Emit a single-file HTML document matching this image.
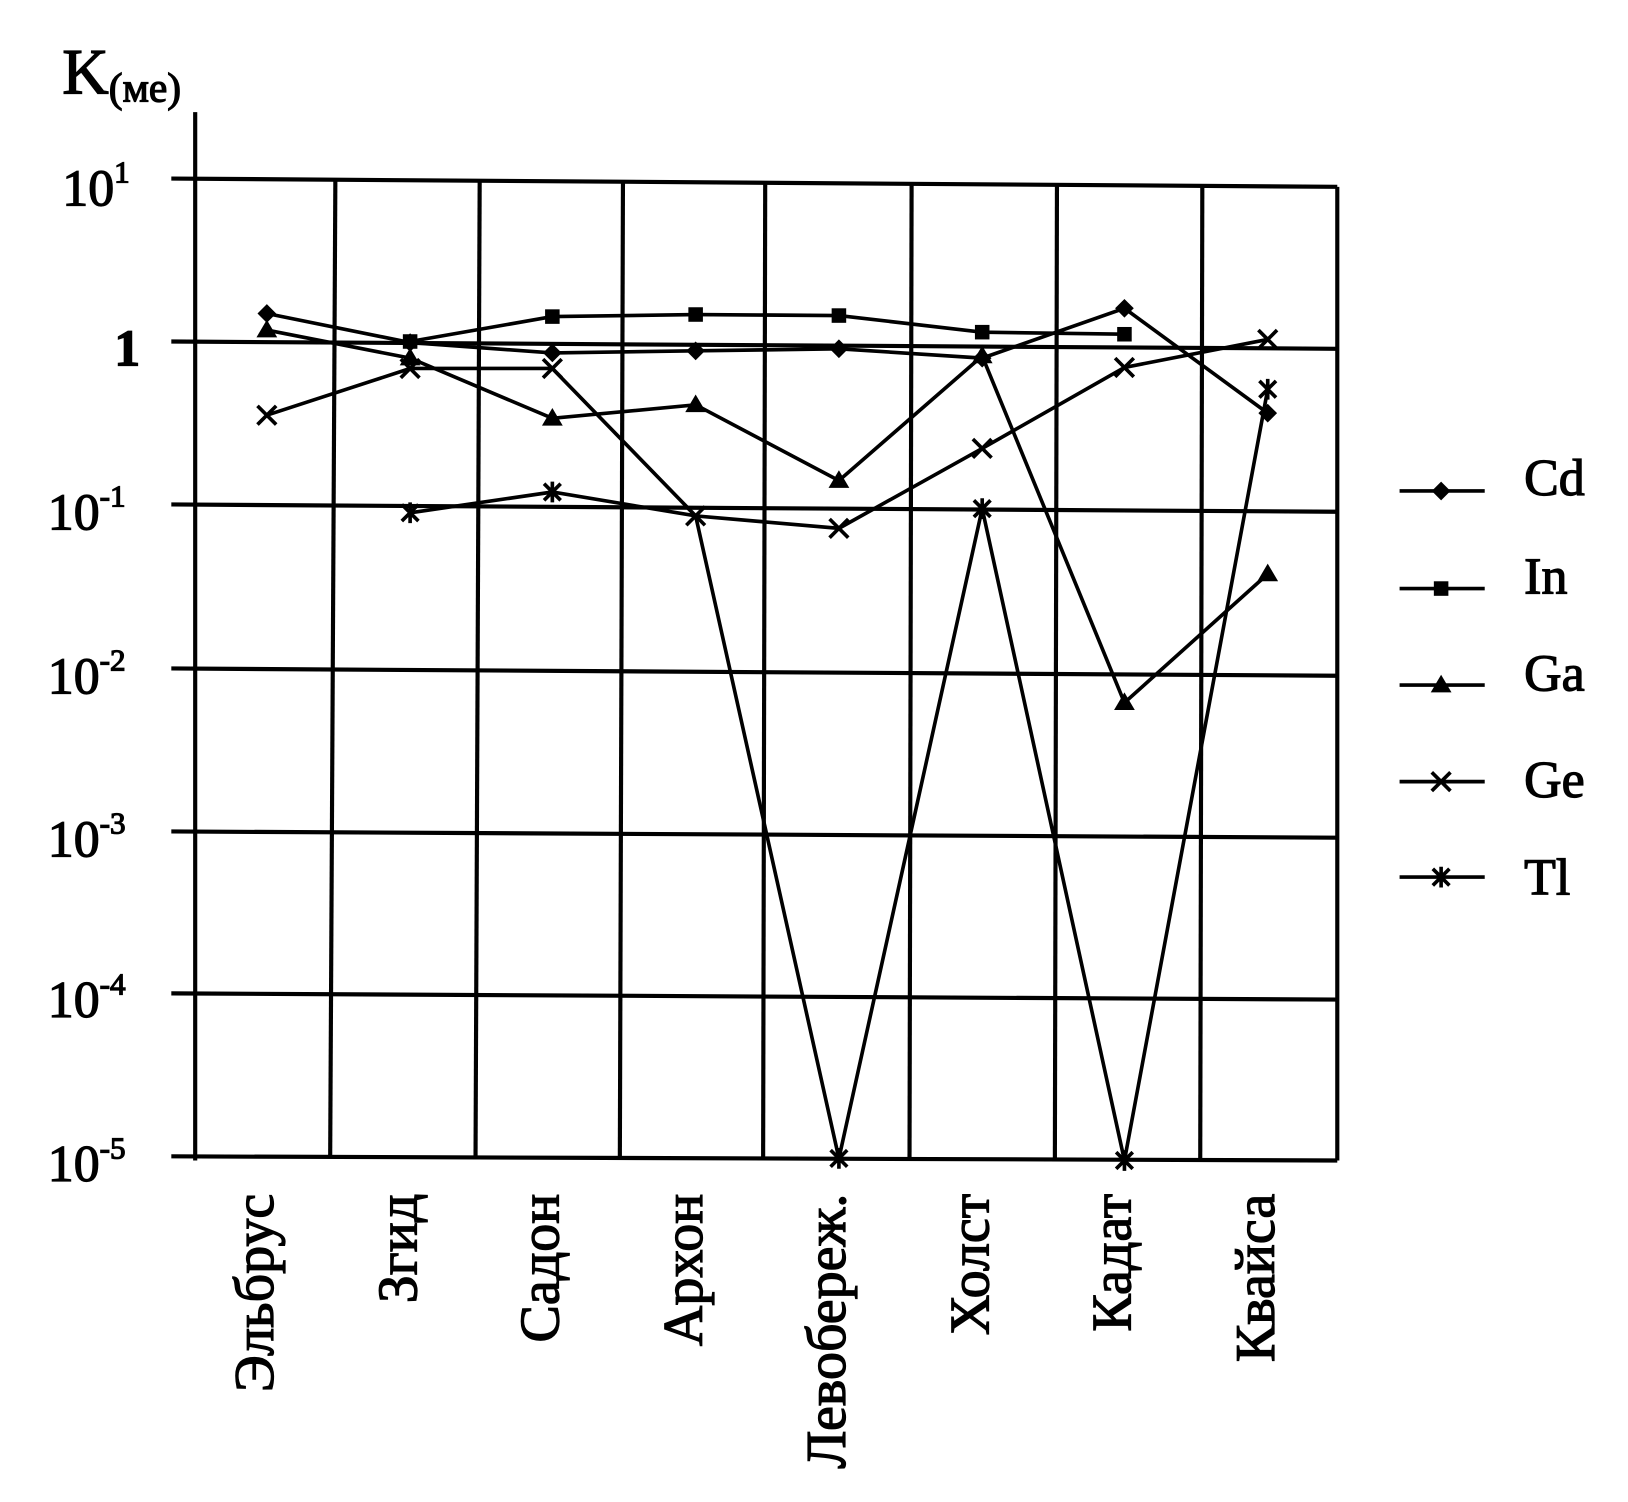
<!DOCTYPE html>
<html><head><meta charset="utf-8"><style>html,body{margin:0;padding:0;background:#fff}svg{display:block}</style></head>
<body>
<svg width="1628" height="1502" viewBox="0 0 1568 1447" preserveAspectRatio="none" xmlns="http://www.w3.org/2000/svg" font-family="Liberation Serif, serif">
<g stroke="#000" stroke-width="4" fill="none">
<line x1="188" y1="108" x2="188" y2="1118"/>
<line x1="165" y1="172" x2="1288" y2="180"/>
<line x1="165" y1="329" x2="1288" y2="336"/>
<line x1="165" y1="486" x2="1288" y2="493"/>
<line x1="165" y1="644" x2="1288" y2="651"/>
<line x1="165" y1="801" x2="1288" y2="807"/>
<line x1="165" y1="957" x2="1288" y2="963"/>
<line x1="165" y1="1114" x2="1288" y2="1118"/>
<line x1="1288" y1="180" x2="1288" y2="1118"/>
<line x1="323" y1="172" x2="318" y2="1116"/>
<line x1="462" y1="174" x2="458" y2="1116"/>
<line x1="600" y1="174" x2="597" y2="1116"/>
<line x1="737" y1="175" x2="735" y2="1116"/>
<line x1="878" y1="176" x2="876" y2="1117"/>
<line x1="1018" y1="178" x2="1016" y2="1117"/>
<line x1="1158" y1="179" x2="1156" y2="1118"/>
</g>
<g stroke="#000" stroke-width="3.5" fill="none">
<polyline points="257,302 395,330 532,340 670,338 808,336 946,345 1083,297 1221,398"/>
<polyline points="395,329 532,305 670,303 808,304 946,320 1083,322"/>
<polyline points="257,318 395,345 532,403 670,390 808,463 946,343 1083,677 1221,553"/>
<polyline points="257,400 395,355 532,355 670,497 808,509 946,432 1083,354 1221,327"/>
<polyline points="395,494 532,474 670,497 808,1116 946,490 1083,1118 1221,375"/>
</g>
<g fill="#000">
<path d="M257,293 l9,9 l-9,9 l-9,-9z"/><path d="M395,321 l9,9 l-9,9 l-9,-9z"/><path d="M532,331 l9,9 l-9,9 l-9,-9z"/><path d="M670,329 l9,9 l-9,9 l-9,-9z"/><path d="M808,327 l9,9 l-9,9 l-9,-9z"/><path d="M946,336 l9,9 l-9,9 l-9,-9z"/><path d="M1083,288 l9,9 l-9,9 l-9,-9z"/><path d="M1221,389 l9,9 l-9,9 l-9,-9z"/>
<rect x="388" y="322" width="14" height="14"/><rect x="525" y="298" width="14" height="14"/><rect x="663" y="296" width="14" height="14"/><rect x="801" y="297" width="14" height="14"/><rect x="939" y="313" width="14" height="14"/><rect x="1076" y="315" width="14" height="14"/>
<path d="M257,308 l10,17 h-20z"/><path d="M395,335 l10,17 h-20z"/><path d="M532,393 l10,17 h-20z"/><path d="M670,380 l10,17 h-20z"/><path d="M808,453 l10,17 h-20z"/><path d="M946,333 l10,17 h-20z"/><path d="M1083,667 l10,17 h-20z"/><path d="M1221,543 l10,17 h-20z"/>
</g>
<g stroke="#000" stroke-width="3.5">
<path d="M248,391 l18,18 M266,391 l-18,18"/><path d="M386,346 l18,18 M404,346 l-18,18"/><path d="M523,346 l18,18 M541,346 l-18,18"/><path d="M661,488 l18,18 M679,488 l-18,18"/><path d="M799,500 l18,18 M817,500 l-18,18"/><path d="M937,423 l18,18 M955,423 l-18,18"/><path d="M1074,345 l18,18 M1092,345 l-18,18"/><path d="M1212,318 l18,18 M1230,318 l-18,18"/>
<path d="M387,486 l16,16 M403,486 l-16,16 M395,484 v20"/><path d="M524,466 l16,16 M540,466 l-16,16 M532,464 v20"/><path d="M800,1108 l16,16 M816,1108 l-16,16 M808,1106 v20"/><path d="M938,482 l16,16 M954,482 l-16,16 M946,480 v20"/><path d="M1075,1110 l16,16 M1091,1110 l-16,16 M1083,1108 v20"/><path d="M1213,367 l16,16 M1229,367 l-16,16 M1221,365 v20"/>
</g>
<g stroke="#000" stroke-width="3.5">
<line x1="1348" y1="473" x2="1430" y2="473"/><line x1="1348" y1="567" x2="1430" y2="567"/><line x1="1348" y1="660" x2="1430" y2="660"/><line x1="1348" y1="753" x2="1430" y2="753"/><line x1="1348" y1="845" x2="1430" y2="845"/>
<path d="M1379,744 l18,18 M1397,744 l-18,18"/><path d="M1380,837 l16,16 M1396,837 l-16,16 M1388,835 v20"/>
</g>
<g fill="#000"><path d="M1388,464 l9,9 l-9,9 l-9,-9z"/><rect x="1381" y="560" width="14" height="14"/><path d="M1388,650 l10,17 h-20z"/></g>
<g font-size="50" fill="#000" stroke="#000" stroke-width="1.2">
<text x="1468" y="477">Cd</text><text x="1468" y="572">In</text><text x="1468" y="665">Ga</text><text x="1468" y="768">Ge</text><text x="1468" y="862">Tl</text>
<text x="60" y="90" font-size="62">K<tspan font-size="40" dy="8">(ме)</tspan></text>
<text x="60" y="198">10<tspan font-size="30" dy="-22">1</tspan></text>
<text x="110" y="352" font-weight="bold">1</text>
<text x="46" y="510">10<tspan font-size="30" dy="-22">-1</tspan></text>
<text x="46" y="668">10<tspan font-size="30" dy="-22">-2</tspan></text>
<text x="46" y="825">10<tspan font-size="30" dy="-22">-3</tspan></text>
<text x="46" y="980">10<tspan font-size="30" dy="-22">-4</tspan></text>
<text x="46" y="1138">10<tspan font-size="30" dy="-22">-5</tspan></text>
</g>
<g font-size="54" fill="#000" stroke="#000" stroke-width="1.2" text-anchor="end">
<text transform="translate(257,1150) rotate(-90)" dy="6">Эльбрус</text>
<text transform="translate(395,1150) rotate(-90)" dy="6">Згид</text>
<text transform="translate(532,1150) rotate(-90)" dy="6">Садон</text>
<text transform="translate(670,1150) rotate(-90)" dy="6">Архон</text>
<text transform="translate(808,1150) rotate(-90)" dy="6">Левобереж.</text>
<text transform="translate(946,1150) rotate(-90)" dy="6">Холст</text>
<text transform="translate(1083,1150) rotate(-90)" dy="6">Кадат</text>
<text transform="translate(1221,1150) rotate(-90)" dy="6">Квайса</text>
</g>
</svg>
</body></html>
